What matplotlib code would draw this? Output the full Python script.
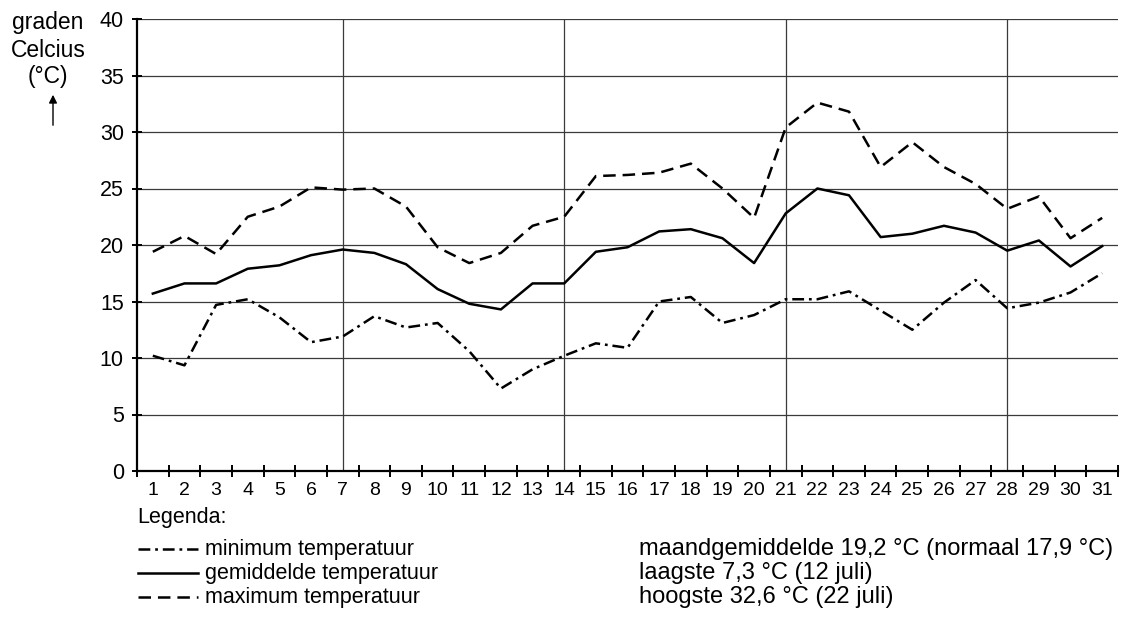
import matplotlib
matplotlib.use("Agg")
import matplotlib.pyplot as plt
from matplotlib.lines import Line2D

plt.rcParams['font.family'] = ['Liberation Sans', 'DejaVu Sans']
plt.rcParams['lines.scale_dashes'] = False

# data: temperatures july, per day
days = list(range(1, 32))
t_max = [19.4, 20.8, 19.2, 22.5, 23.4, 25.1, 24.9, 25.0, 23.4, 19.8, 18.4,
         19.3, 21.7, 22.5, 26.1, 26.2, 26.4, 27.2, 25.0, 22.4, 30.4, 32.6,
         31.8, 26.9, 29.1, 26.9, 25.4, 23.2, 24.3, 20.6, 22.4]
t_mean = [15.7, 16.6, 16.6, 17.9, 18.2, 19.1, 19.6, 19.3, 18.3, 16.1, 14.8,
          14.3, 16.6, 16.6, 19.4, 19.8, 21.2, 21.4, 20.6, 18.4, 22.8, 25.0,
          24.4, 20.7, 21.0, 21.7, 21.1, 19.5, 20.4, 18.1, 19.9]
t_min = [10.2, 9.35, 14.7, 15.2, 13.6, 11.4, 11.9, 13.7, 12.7, 13.1, 10.6,
         7.3, 9.0, 10.2, 11.3, 10.9, 15.0, 15.4, 13.1, 13.8, 15.2, 15.2,
         15.9, 14.2, 12.5, 14.9, 16.9, 14.4, 14.9, 15.8, 17.5]
week_lines = [7, 14, 21, 28]
y_ticks = [0, 5, 10, 15, 20, 25, 30, 35, 40]

legend_labels = ["minimum temperatuur", "gemiddelde temperatuur", "maximum temperatuur"]
info_lines = ["maandgemiddelde 19,2 °C (normaal 17,9 °C)",
              "laagste 7,3 °C (12 juli)",
              "hoogste 32,6 °C (22 juli)"]

W, H = 1129, 619
def fx(px):
    return px / W
def fy(py):
    return 1 - py / H

# line styles
lw = 1.8
st_min = (0, (8.5, 3.5, 2, 3.5))
st_mean = '-'
st_max = (0, (9, 5))

fig = plt.figure(figsize=(11.29, 6.19), dpi=100)
ax = fig.add_axes([fx(137), fy(471), fx(1118) - fx(137), fy(19) - fy(471)])

# grid
for v in y_ticks[1:]:
    ax.axhline(v, color='#3a3a3a', lw=0.9, zorder=1)
for d in week_lines:
    ax.axvline(d, color='#3a3a3a', lw=0.9, zorder=1)

ax.plot(days, t_min, color='black', lw=lw, linestyle=st_min, zorder=3)
ax.plot(days, t_mean, color='black', lw=lw, linestyle=st_mean, zorder=3)
ax.plot(days, t_max, color='black', lw=lw, linestyle=st_max, zorder=3)

ax.set_xlim(0.5, 31.5)
ax.set_ylim(0, 40)
ax.spines['top'].set_visible(False)
ax.spines['right'].set_visible(False)
ax.spines['left'].set_linewidth(1.6)
ax.spines['bottom'].set_linewidth(1.6)

ax.set_yticks(y_ticks)
ax.tick_params(axis='y', direction='inout', length=7, width=1.4, pad=6, labelsize=15.5)

ax.set_xticks(days)
ax.set_xticklabels([str(d) for d in days])
ax.set_xticks([d + 0.5 for d in range(0, 32)], minor=True)
ax.tick_params(axis='x', which='major', length=0, pad=8, labelsize=14)
ax.tick_params(axis='x', which='minor', direction='inout', length=8, width=1.4)

# y axis title
for txt, base in zip(["graden", "Celcius", "(°C)"], [29, 57, 83]):
    fig.text(fx(48), fy(base), txt, ha='center', va='baseline', fontsize=16.5)
fig.add_artist(matplotlib.patches.FancyArrowPatch(
    (fx(53), fy(128)), (fx(53), fy(92)), transform=fig.transFigure,
    arrowstyle='-|>', mutation_scale=12, color='black', lw=1.0))

# legend
fig.text(fx(137), fy(517), "Legenda:", ha='left', va='center', fontsize=15.5)
rows = [549, 573, 597]
styles = [st_min, st_mean, st_max]
for row, style, label in zip(rows, styles, legend_labels):
    fig.add_artist(Line2D([fx(138), fx(198)], [fy(row), fy(row)],
                          transform=fig.transFigure, color='black', lw=lw,
                          linestyle=style))
    fig.text(fx(205), fy(row), label, ha='left', va='center', fontsize=15.5)

for row, txt in zip(rows, info_lines):
    fig.text(fx(639), fy(row), txt, ha='left', va='center', fontsize=17)

fig.savefig("out.png", dpi=100)
